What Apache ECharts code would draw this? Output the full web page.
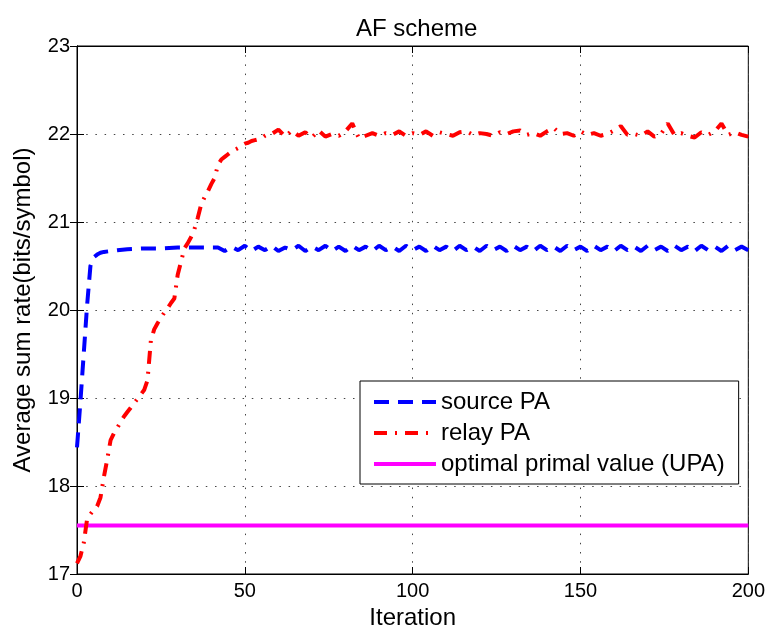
<!DOCTYPE html>
<html>
<head>
<meta charset="utf-8">
<title>AF scheme</title>
<script src="https://cdn.jsdelivr.net/npm/echarts@6/dist/echarts.min.js"></script>
<style>
  html, body { margin: 0; padding: 0; background: #fff; }
  #main { width: 768px; height: 635px; }
</style>
</head>
<body>
<div id="main"></div>
<script>
// 迭代次数 / 平均和速率
var xTicks = [0, 50, 100, 150, 200];
var yTicks = [17, 18, 19, 20, 21, 22, 23];

// source PA
var sourceIter = [0, 1, 2, 3, 4, 5, 6, 7, 8, 10, 12, 15, 20, 25, 30, 35, 40, 42,
	44, 46, 48, 50, 52, 54, 56, 58, 60, 62, 64, 66, 68, 70, 72, 74, 76, 78, 80,
	82, 84, 86, 88, 90, 92, 94, 96, 98, 100, 102, 104, 106, 108, 110, 112, 114, 116, 118, 120,
	122, 124, 126, 128, 130, 132, 134, 136, 138, 140, 142, 144, 146, 148, 150, 152, 154, 156, 158, 160,
	162, 164, 166, 168, 170, 172, 174, 176, 178, 180, 182, 184, 186, 188, 190, 192, 194, 196, 198, 200];
var sourcePA = [18.44, 18.95, 19.5, 20.05, 20.5, 20.6, 20.63, 20.65, 20.66, 20.67, 20.68, 20.69, 20.70, 20.70, 20.71, 20.71, 20.71, 20.71,
	20.67, 20.72, 20.68, 20.73, 20.67, 20.72, 20.68, 20.73, 20.67, 20.71, 20.68, 20.73, 20.67, 20.72, 20.68, 20.73, 20.67, 20.72, 20.67,
	20.73, 20.68, 20.72, 20.67, 20.73, 20.68, 20.72, 20.67, 20.73, 20.68, 20.72, 20.67, 20.73, 20.68, 20.72, 20.67, 20.73, 20.68, 20.72, 20.67,
	20.73, 20.68, 20.72, 20.67, 20.73, 20.68, 20.72, 20.67, 20.73, 20.68, 20.72, 20.67, 20.73, 20.68, 20.72, 20.67, 20.73, 20.68, 20.72, 20.67,
	20.73, 20.68, 20.72, 20.67, 20.73, 20.68, 20.72, 20.67, 20.73, 20.68, 20.72, 20.67, 20.73, 20.68, 20.72, 20.67, 20.73, 20.68, 20.72, 20.68];

// relay PA
var relayIter = [0, 1, 2, 3, 4, 5, 6, 7, 8, 9, 10, 11, 12, 13, 14, 15, 16, 17, 18, 19,
	20, 21, 22, 23, 24, 25, 26, 27, 28, 29, 30, 31, 32, 33, 34, 35, 36, 37, 38, 39,
	40, 41, 42, 43, 44, 45, 46, 47, 48, 49, 50, 51, 52, 53, 54, 55, 56, 57,
	58, 60, 62, 64, 66, 68, 70, 72, 74, 76, 78, 80, 82, 84, 86, 88, 90, 92, 94, 96, 98, 100,
	102, 104, 106, 108, 110, 112, 114, 116, 118, 120, 122, 124, 126, 128, 130, 132, 134, 136, 138, 140,
	142, 144, 146, 148, 150, 152, 154, 156, 158, 160, 162, 164, 166, 168, 170, 172, 174, 176, 178, 180,
	182, 184, 186, 188, 190, 192, 194, 196, 198, 200];
var relayPA = [17.12, 17.2, 17.35, 17.62, 17.68, 17.73, 17.77, 17.87, 18.1, 18.3, 18.52, 18.6, 18.66, 18.73, 18.79, 18.84, 18.89, 18.94, 18.99, 19.04,
	19.09, 19.2, 19.65, 19.78, 19.85, 19.91, 19.97, 20.02, 20.08, 20.13, 20.4, 20.55, 20.7, 20.76, 20.83, 20.92, 21.05, 21.2, 21.28, 21.35,
	21.43, 21.5, 21.65, 21.71, 21.74, 21.77, 21.8, 21.82, 21.84, 21.87, 21.89, 21.9, 21.92, 21.93, 21.94, 21.95, 21.98, 22.0,
	22.0, 22.05, 21.97, 22.04, 21.98, 22.02, 21.96, 22.04, 21.97, 22.0, 21.98, 22.03, 22.12, 21.95, 21.98, 22.01, 21.98, 22.01, 21.99, 22.03, 21.98, 22.01,
	21.99, 22.03, 21.98, 22.02, 22.0, 21.98, 22.02, 22.03, 21.99, 22.01, 22.0, 21.98, 22.02, 22.0, 22.03, 22.04, 21.99, 22.01, 21.98, 22.03,
	22.07, 22.0, 22.01, 21.98, 22.03, 21.99, 22.01, 21.98, 22.0, 22.04, 22.09, 21.99, 22.0, 21.98, 22.03, 21.97, 22.0, 22.12, 21.99, 22.01,
	21.98, 21.96, 22.02, 21.99, 22.03, 22.12, 21.99, 22.02, 21.99, 21.97];

// optimal primal value (UPA)
var upaIter = [0, 200];
var upaValue = [17.55, 17.55];

function pairs(xs, ys) {
	var out = [];
	for (var i = 0; i < xs.length; i++) {
		out.push([xs[i], ys[i]]);
	}
	return out;
}

var myChart = echarts.init(document.getElementById('main'));
var fontName = 'Liberation Sans, Arial, Helvetica, sans-serif';
var gridDots = {
	show: true,
	lineStyle: { color: '#444', width: 1, type: [1.5, 7.7] }
};

var option = {
	animation: false,
	backgroundColor: '#fff',
	textStyle: { fontFamily: fontName, color: '#000' },
	title: {
		text: 'AF scheme',
		left: 351,
		top: 12,
		textStyle: { fontSize: 24, fontWeight: 'normal', color: '#000', fontFamily: fontName }
	},
	grid: {
		left: 77,
		right: 18,
		top: 46,
		bottom: 58,
		show: true,
		borderColor: '#000',
		borderWidth: 1,
		backgroundColor: '#fff'
	},
	legend: {
		orient: 'vertical',
		left: 360,
		top: 381,
		padding: [9, 14, 8, 12],
		itemWidth: 62,
		itemHeight: 14,
		itemGap: 7,
		borderColor: '#000',
		borderWidth: 1,
		backgroundColor: '#fff',
		itemStyle: { opacity: 0 },
		lineStyle: { width: 4 },
		textStyle: { fontSize: 24, color: '#000', fontFamily: fontName },
		data: ['source PA', 'relay PA', 'optimal primal value (UPA)']
	},
	xAxis: [{
		type: 'value',
		min: xTicks[0],
		max: xTicks[xTicks.length - 1],
		interval: 50,
		name: 'Iteration',
		nameLocation: 'middle',
		nameGap: 32,
		nameTextStyle: { fontSize: 24, color: '#000' },
		axisLine: { show: true, lineStyle: { color: '#000', width: 1 } },
		axisTick: { inside: true, length: 7, lineStyle: { color: '#000' } },
		axisLabel: { fontSize: 20, color: '#000', margin: 7 },
		splitLine: gridDots
	}, {
		type: 'value',
		position: 'top',
		min: xTicks[0],
		max: xTicks[xTicks.length - 1],
		interval: 50,
		axisLine: { show: true, lineStyle: { color: '#000', width: 1 } },
		axisTick: { inside: true, length: 7, lineStyle: { color: '#000' } },
		axisLabel: { show: false },
		splitLine: { show: false }
	}],
	yAxis: [{
		type: 'value',
		min: yTicks[0],
		max: yTicks[yTicks.length - 1],
		interval: 1,
		name: 'Average sum rate(bits/symbol)',
		nameLocation: 'middle',
		nameGap: 42,
		nameTextStyle: { fontSize: 24, color: '#000' },
		axisLine: { show: true, lineStyle: { color: '#000', width: 1 } },
		axisTick: { inside: true, length: 7, lineStyle: { color: '#000' } },
		axisLabel: { fontSize: 20, color: '#000', margin: 7 },
		splitLine: gridDots
	}, {
		type: 'value',
		position: 'right',
		min: yTicks[0],
		max: yTicks[yTicks.length - 1],
		interval: 1,
		axisLine: { show: true, lineStyle: { color: '#000', width: 1 } },
		axisTick: { inside: true, length: 7, lineStyle: { color: '#000' } },
		axisLabel: { show: false },
		splitLine: { show: false }
	}],
	series: [{
		name: 'source PA',
		type: 'line',
		data: pairs(sourceIter, sourcePA),
		showSymbol: false,
		symbol: 'none',
		lineStyle: { color: '#0000ff', width: 4, type: [15, 9] },
		itemStyle: { color: '#0000ff' },
		z: 3
	}, {
		name: 'relay PA',
		type: 'line',
		data: pairs(relayIter, relayPA),
		showSymbol: false,
		symbol: 'none',
		lineStyle: { color: '#ff0000', width: 4, type: [13, 8, 2, 8] },
		itemStyle: { color: '#ff0000' },
		z: 4
	}, {
		name: 'optimal primal value (UPA)',
		type: 'line',
		data: pairs(upaIter, upaValue),
		showSymbol: false,
		symbol: 'none',
		lineStyle: { color: '#ff00ff', width: 4, type: 'solid' },
		itemStyle: { color: '#ff00ff' },
		z: 2
	}]
};

myChart.setOption(option);
</script>
</body>
</html>
